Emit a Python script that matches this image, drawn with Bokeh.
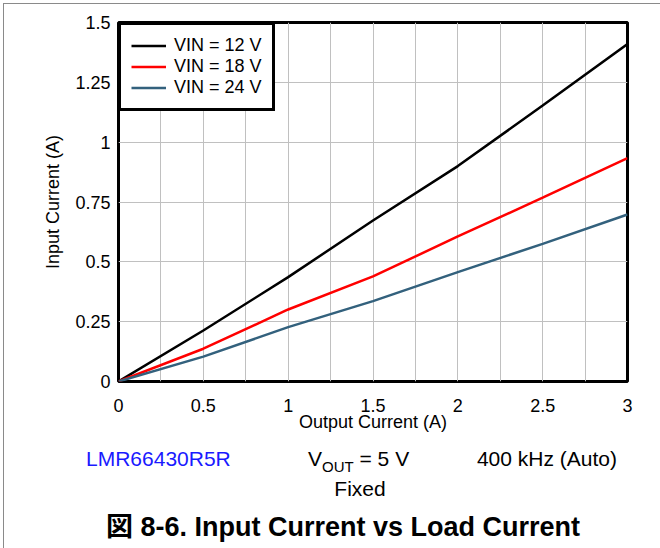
from bokeh.plotting import figure
from bokeh.layouts import column
from bokeh.models import Range1d, FixedTicker, Legend, LegendItem, Div, InlineStyleSheet
from bokeh.embed import file_html
from bokeh.resources import INLINE

# ---- data ----
output_current = [0, 0.5, 1, 1.5, 2, 2.5, 3]
vin12 = [0, 0.213, 0.436, 0.673, 0.900, 1.153, 1.410]
vin18 = [0, 0.137, 0.301, 0.439, 0.606, 0.768, 0.933]
vin24 = [0, 0.104, 0.227, 0.336, 0.457, 0.575, 0.698]
series_names = ["VIN = 12 V", "VIN = 18 V", "VIN = 24 V"]
series_colors = ["#000000", "#ff0000", "#33617d"]

x_ticks = [0, 0.5, 1, 1.5, 2, 2.5, 3]
x_tick_labels = ["0", "0.5", "1", "1.5", "2", "2.5", "3"]
y_ticks = [0, 0.25, 0.5, 0.75, 1, 1.25, 1.5]
y_tick_labels = ["0", "0.25", "0.5", "0.75", "1", "1.25", "1.5"]
grid_x = [0, 0.25, 0.5, 0.75, 1, 1.25, 1.5, 1.75, 2, 2.25, 2.5, 2.75, 3]
grid_y = [0, 0.25, 0.5, 0.75, 1, 1.25, 1.5]

FONT = "Liberation Sans"

p = figure(width=656, height=436, output_backend="svg", toolbar_location=None,
           x_range=Range1d(0, 3), y_range=Range1d(0, 1.5),
           min_border_left=114, min_border_right=33, min_border_top=18,
           min_border_bottom=59)

p.outline_line_color = "black"
p.outline_line_width = 3
p.background_fill_color = "white"
p.border_fill_color = "white"

# grids
p.xgrid.ticker = FixedTicker(ticks=grid_x)
p.ygrid.ticker = FixedTicker(ticks=grid_y)
for g in (p.xgrid, p.ygrid):
    g.grid_line_color = "#c0c0c0"
    g.grid_line_width = 1

# axes
p.xaxis.ticker = FixedTicker(ticks=x_ticks)
p.yaxis.ticker = FixedTicker(ticks=y_ticks)
p.xaxis.major_label_overrides = {t: l for t, l in zip(x_ticks, x_tick_labels)}
p.yaxis.major_label_overrides = {t: l for t, l in zip(y_ticks, y_tick_labels)}
for ax in (p.xaxis, p.yaxis):
    ax.axis_line_color = None
    ax.major_tick_line_color = None
    ax.minor_tick_line_color = None
    ax.major_tick_out = 0
    ax.major_tick_in = 0
    ax.minor_tick_out = 0
    ax.major_label_text_font = FONT
    ax.major_label_text_font_size = "18px"
    ax.major_label_text_color = "black"
    ax.axis_label_text_font = FONT
    ax.axis_label_text_font_size = "18px"
    ax.axis_label_text_font_style = "normal"
    ax.axis_label_text_color = "black"
p.xaxis.axis_label = "Output Current (A)"
p.yaxis.axis_label = "Input Current (A)"
p.xaxis.major_label_standoff = 17
p.xaxis.axis_label_standoff = -3
p.yaxis.major_label_standoff = 8
p.yaxis.axis_label_standoff = 9

# lines
renderers = []
for ys, c in zip([vin12, vin18, vin24], series_colors):
    r = p.line(output_current, ys, line_color=c, line_width=2.5)
    renderers.append(r)

legend = Legend(items=[LegendItem(label=n, renderers=[r]) for n, r in zip(series_names, renderers)],
                location="top_left")
legend.border_line_color = "black"
legend.border_line_alpha = 1
legend.border_line_width = 3
legend.background_fill_alpha = 1
legend.margin = 0
legend.padding = 10
legend.spacing = 0
legend.glyph_width = 35
legend.glyph_height = 21
legend.label_height = 21
legend.label_standoff = 8
legend.label_text_font = FONT
legend.label_text_font_size = "18px"
legend.label_text_color = "black"
p.add_layout(legend)

# ---- notes below the chart (HTML text, styled through a stylesheet) ----
notes_css = """
.wrap { position: relative; width: 656px; height: 108px; background: white; margin: 0; padding: 0; }
.n { position: absolute; white-space: nowrap; line-height: 1; color: black;
     font-family: 'Liberation Sans', Arial, sans-serif; font-size: 21px; font-weight: normal; }
.part { left: 82px; top: 8px; color: #1a1aff; }
.vout { left: 304px; top: 8px; }
.sub { font-size: 15px; position: relative; top: 6px; }
.freq { right: 43px; top: 8px; }
.fixed { left: 356px; top: 38px; transform: translateX(-50%); }
.title { left: 339px; top: 74px; transform: translateX(-50%); font-size: 27px; font-weight: bold;
         font-family: 'Liberation Sans', 'Noto Sans CJK JP', sans-serif; }
"""
notes_html = (
    "<div class='wrap'>"
    "<span class='n part'>LMR66430R5R</span>"
    "<span class='n vout'>V<span class='sub'>OUT</span> = 5 V</span>"
    "<span class='n freq'>400 kHz (Auto)</span>"
    "<span class='n fixed'>Fixed</span>"
    "<span class='n title'>図 8-6. Input Current vs Load Current</span>"
    "</div>"
)
notes = Div(text=notes_html, width=656, height=108, margin=0,
            stylesheets=[InlineStyleSheet(css=notes_css)])

layout = column(p, notes, spacing=0,
                styles={"border-top": "1px solid #8a8a8a", "border-left": "1px solid #8a8a8a",
                        "margin-top": "3px", "margin-left": "3px"})

open("out.html", "w").write(file_html(layout, INLINE))
